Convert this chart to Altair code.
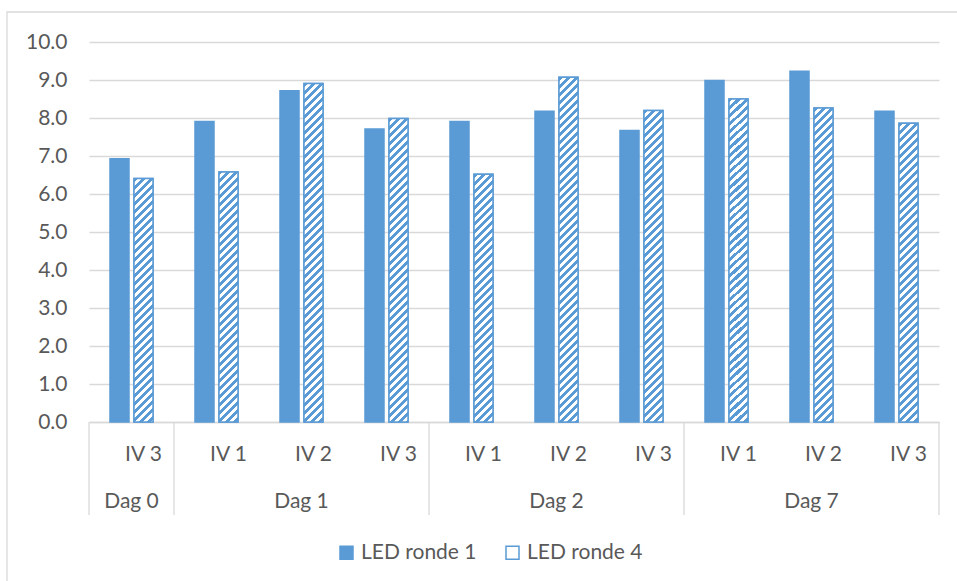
import altair as alt
import pandas as pd

# ---- data ----
days = ["Dag 0", "Dag 1", "Dag 1", "Dag 1", "Dag 2", "Dag 2", "Dag 2", "Dag 7", "Dag 7", "Dag 7"]
ivs = ["IV 3", "IV 1", "IV 2", "IV 3", "IV 1", "IV 2", "IV 3", "IV 1", "IV 2", "IV 3"]
ronde1 = [6.93, 7.91, 8.72, 7.71, 7.91, 8.18, 7.67, 8.99, 9.23, 8.18]
ronde4 = [6.41, 6.58, 8.91, 7.99, 6.52, 9.07, 8.20, 8.50, 8.26, 7.86]
series = ["LED ronde 1", "LED ronde 4"]
y_ticks = [0, 1, 2, 3, 4, 5, 6, 7, 8, 9, 10]

# ---- styles ----
BLUE = "#5B9BD5"
GRID = "#D9D9D9"
TEXT = "#595959"
FONT = "Lato"
FS = 21
W, H = 850, 380
BAR_W = 19.0
PX_PER_UNIT = H / 10.0
PERIOD = 8.0

keys = [f"{d}|{i}" for d, i in zip(days, ivs)]

rows = []
for k, d, i, a, b in zip(keys, days, ivs, ronde1, ronde4):
    rows.append({"Key": k, "Dag": d, "IV": i, "Serie": series[0], "Waarde": a})
    rows.append({"Key": k, "Dag": d, "IV": i, "Serie": series[1], "Waarde": b})
df = pd.DataFrame(rows)
df4 = df[df["Serie"] == series[1]]

# group (Dag) table derived from the lists
groups = []
for d in dict.fromkeys(days):
    ks = [k for k, dd in zip(keys, days) if dd == d]
    groups.append({"Dag": d, "First": ks[0], "Last": ks[-1], "Mid": ks[len(ks) // 2]})
gdf = pd.DataFrame(groups)
gdf_mid = gdf.rename(columns={"Mid": "Key"})[["Key", "Dag"]]
gdf_first = gdf.rename(columns={"First": "Key"})[["Key", "Dag"]]
gdf_last = gdf.iloc[[-1]].rename(columns={"Last": "Key"})[["Key", "Dag"]]


def hatch(v):
    h = v * PX_PER_UNIT
    L = BAR_W + h
    c = L / (BAR_W ** 2 + h ** 2)
    stops = []
    i = 0
    while i * PERIOD / L < 1:
        a = i * PERIOD / L
        b = min((i + 0.5) * PERIOD / L, 1.0)
        e = min((i + 1) * PERIOD / L, 1.0)
        stops += [
            {"offset": round(a, 5), "color": BLUE},
            {"offset": round(b, 5), "color": BLUE},
            {"offset": round(b, 5), "color": "#FFFFFF"},
            {"offset": round(e, 5), "color": "#FFFFFF"},
        ]
        i += 1
    return {"gradient": "linear", "x1": 0, "y1": 0,
            "x2": round(c * BAR_W, 6), "y2": round(c * h, 6), "stops": stops}


x_scale = alt.Scale(paddingInner=0.494, paddingOuter=0.247)
x_enc = alt.X(
    "Key:N", sort=keys, scale=x_scale,
    axis=alt.Axis(
        title=None, labelExpr="split(datum.label, '|')[1]", labelAngle=0,
        ticks=False, tickSize=0, domainColor=GRID, domainWidth=1.3,
        labelOffset=12, labelPadding=38, labelBaseline="alphabetic",
        labelFont=FONT, labelFontSize=FS, labelColor=TEXT, grid=False,
        labelOverlap=False,
    ),
)
y_enc = alt.Y(
    "Waarde:Q", scale=alt.Scale(domain=[0, 10], nice=False),
    axis=alt.Axis(
        values=y_ticks, format=".1f", title=None, domain=False, ticks=False,
        labelPadding=22, gridColor=GRID, gridWidth=1.3, labelFont=FONT,
        labelFontSize=FS, labelColor=TEXT, labelOverlap=False, labelFlush=False,
        labelBound=False,
    ),
)
xoff = alt.XOffset("Serie:N", sort=series, scale=alt.Scale(paddingInner=0.208, paddingOuter=0))

bars = alt.Chart(df).mark_bar(strokeWidth=1.5).encode(
    x=x_enc, y=y_enc, xOffset=xoff,
    fill=alt.Fill(
        "Serie:N", scale=alt.Scale(domain=series, range=[BLUE, "#FFFFFF"]),
        legend=alt.Legend(
            title=None, orient="none", direction="horizontal",
            legendX=247, legendY=500, symbolType="square", symbolSize=169,
            symbolStrokeColor=BLUE, symbolStrokeWidth=1.5,
            labelFont=FONT, labelFontSize=FS, labelColor=TEXT,
            columnPadding=25, labelOffset=4, padding=0,
        ),
    ),
    stroke=alt.Stroke("Serie:N", scale=alt.Scale(domain=series, range=[BLUE, BLUE]), legend=None),
)

conds = [
    {"test": f"datum.Key === '{k}'", "value": hatch(v)}
    for k, v in zip(keys, ronde4)
]
hatched = alt.Chart(df4).mark_bar(stroke=BLUE, strokeWidth=1.5).encode(
    x=x_enc, y=y_enc, xOffset=xoff,
    fill=alt.FillValue(value="#FFFFFF", condition=conds),
)

border = alt.Chart(pd.DataFrame({"a": [0]})).mark_rect(
    fillOpacity=0, stroke=GRID, strokeWidth=1.3
).encode(x=alt.value(-82), x2=alt.value(900), y=alt.value(-30), y2=alt.value(560))

div_left = alt.Chart(gdf_first).mark_rule(color=GRID, strokeWidth=1.3, xOffset=-42.5).encode(
    x=x_enc, y=alt.value(H), y2=alt.value(H + 93)
)
div_right = alt.Chart(gdf_last).mark_rule(color=GRID, strokeWidth=1.3, xOffset=42.5).encode(
    x=x_enc, y=alt.value(H), y2=alt.value(H + 93)
)
dag_text = alt.Chart(gdf_mid).mark_text(
    font=FONT, fontSize=FS, color=TEXT, baseline="alphabetic", align="center"
).encode(x=x_enc, y=alt.value(H + 86), text="Dag:N")

chart = alt.layer(bars, hatched, border, div_left, div_right, dag_text).properties(
    width=W, height=H,
    autosize=alt.AutoSizeParams(type="none"),
    padding={"left": 89, "top": 42, "right": 18, "bottom": 159},
    background="white",
).configure_view(stroke=None)

chart.save("out.html", embed_options={"renderer": "svg", "actions": False})
